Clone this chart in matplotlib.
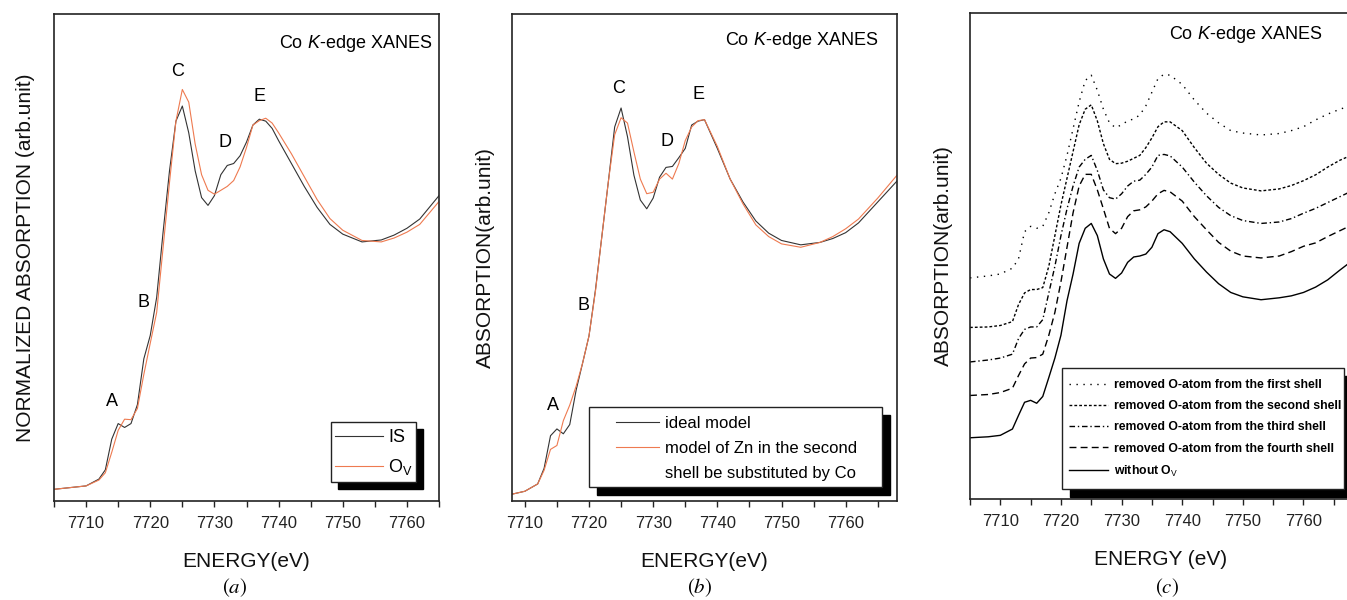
import matplotlib
matplotlib.use('Agg')
import matplotlib.pyplot as plt
from matplotlib.patches import Rectangle
from matplotlib.transforms import IdentityTransform
from matplotlib.ticker import MultipleLocator

plt.rcParams['font.family'] = ['Liberation Sans', 'DejaVu Sans']
plt.rcParams['mathtext.fontset'] = 'custom'
plt.rcParams['mathtext.rm'] = 'Liberation Sans'
plt.rcParams['mathtext.it'] = 'Liberation Sans:italic'

# ---- panel (a): experimental spectra ----
energy_a = [7705, 7710, 7712, 7713, 7714, 7715, 7716, 7717, 7718, 7719,
            7720, 7721, 7722, 7723, 7724, 7725, 7726, 7727, 7728, 7729,
            7730, 7731, 7732, 7733, 7734, 7735, 7736, 7737, 7738, 7739,
            7740, 7742, 7744, 7746, 7748, 7750, 7753, 7756, 7758, 7760,
            7762, 7765]
is_a = [.024, .031, .045, .064, .127, .159, .151, .159, .198, .292,
        .34, .418, .552, .678, .78, .811, .756, .678, .623, .607,
        .627, .67, .689, .693, .709, .737, .772, .784, .78, .765,
        .74, .693, .646, .603, .568, .548, .532, .536, .546, .56,
        .579, .627]
ov_a = [.024, .031, .043, .058, .10, .145, .168, .167, .19, .26,
        .324, .387, .52, .654, .78, .845, .819, .733, .67, .638,
        .63, .638, .646, .658, .686, .726, .772, .781, .786, .776,
        .756, .713, .666, .619, .58, .556, .535, .532, .54, .552,
        .568, .615]

# ---- panel (b): ideal vs Co-substituted model ----
energy_b = [7708, 7710, 7712, 7713, 7714, 7715, 7716, 7717, 7718, 7719,
            7720, 7721, 7722, 7723, 7724, 7725, 7726, 7727, 7728, 7729,
            7730, 7731, 7732, 7733, 7734, 7735, 7736, 7737, 7738, 7740,
            7742, 7744, 7746, 7748, 7750, 7753, 7756, 7758, 7760, 7762,
            7765, 7768]
ideal_b = [.014, .02, .035, .067, .134, .148, .138, .157, .228, .283,
           .339, .433, .543, .654, .768, .807, .748, .669, .618, .6,
           .622, .665, .685, .687, .705, .724, .772, .78, .783, .724,
           .661, .614, .575, .55, .535, .526, .531, .539, .551, .571,
           .614, .657]
subst_b = [.014, .02, .035, .063, .106, .114, .165, .197, .236, .283,
           .339, .43, .543, .654, .752, .787, .776, .717, .661, .631,
           .634, .661, .673, .661, .693, .74, .768, .781, .783, .728,
           .661, .61, .567, .543, .528, .521, .531, .543, .559, .579,
           .622, .669]

# ---- panel (c): O-vacancy in different shells ----
energy_c = [7705, 7708, 7710, 7712, 7713, 7714, 7715, 7716, 7717, 7718,
            7719, 7720, 7721, 7722, 7723, 7724, 7725, 7726, 7727, 7728,
            7729, 7730, 7731, 7732, 7733, 7734, 7735, 7736, 7737, 7738,
            7740, 7742, 7744, 7746, 7748, 7750, 7753, 7756, 7758, 7760,
            7762, 7764, 7766, 7768]
shell1 = [.455, .459, .463, .475, .494, .55, .561, .557, .561, .589,
          .628, .66, .707, .762, .817, .861, .872, .841, .802, .774,
          .764, .77, .778, .782, .79, .809, .837, .865, .874, .872,
          .853, .821, .794, .774, .758, .753, .749, .752, .758, .766,
          .78, .792, .802, .81]
shell2 = [.353, .354, .357, .365, .40, .424, .431, .431, .435, .479,
          .542, .605, .66, .715, .77, .802, .811, .778, .731, .699,
          .69, .691, .695, .701, .707, .723, .743, .766, .776, .776,
          .758, .723, .691, .668, .65, .64, .634, .638, .645, .655,
          .667, .683, .697, .708]
shell3 = [.282, .286, .29, .298, .33, .349, .354, .354, .369, .424,
          .479, .542, .597, .644, .683, .699, .707, .676, .636, .62,
          .617, .628, .644, .654, .656, .668, .683, .707, .709, .706,
          .683, .652, .624, .6, .583, .573, .567, .57, .577, .588,
          .598, .61, .622, .634]
shell4 = [.213, .215, .219, .228, .254, .278, .29, .291, .298, .337,
          .384, .447, .518, .589, .644, .668, .668, .636, .597, .557,
          .546, .557, .581, .593, .595, .601, .613, .628, .635, .632,
          .613, .581, .554, .528, .51, .5, .496, .5, .509, .52,
          .527, .54, .552, .564]
no_ov = [.126, .128, .131, .144, .172, .199, .203, .197, .211, .25,
         .29, .337, .408, .463, .526, .557, .567, .542, .494, .463,
         .454, .465, .487, .498, .5, .504, .518, .546, .554, .55,
         .526, .494, .467, .443, .425, .416, .41, .414, .418, .425,
         .436, .451, .471, .49]

peaks = ['A', 'B', 'C', 'D', 'E']
peak_a = [(7714.0, .205), (7718.9, .407), (7724.2, .881), (7731.6, .737), (7737.1, .830)]
peak_b = [(7714.4, .197), (7719.2, .402), (7724.6, .846), (7732.1, .739), (7737.1, .834)]

W, H = 1347, 600
fig = plt.figure(figsize=(W / 100, H / 100), dpi=100)
BLK = '#333333'
ORG = '#ee7a50'


def make_axes(l, t, r, b):
    return fig.add_axes([l / W, 1 - b / H, (r - l) / W, (b - t) / H])


def style(ax, xlim, ylab, xlab, ylab_x):
    ax.set_xlim(*xlim)
    ax.set_ylim(0, 1)
    ax.set_yticks([])
    ax.xaxis.set_major_locator(MultipleLocator(10))
    ax.xaxis.set_minor_locator(MultipleLocator(5))
    ax.tick_params(axis='x', which='both', direction='out', length=4,
                   width=1, labelsize=12, pad=7, colors='#222222')
    for s in ax.spines.values():
        s.set_linewidth(1.2)
        s.set_color('#222222')
    ax.set_ylabel(ylab, fontsize=15, color='#111111')
    ax.set_xlabel(xlab, fontsize=15, color='#111111')
    ax.yaxis.set_label_coords(ylab_x, 0.5)
    ax.xaxis.set_label_coords(0.5, -0.105)


def frame_box(ax, l, t, r, b, off):
    # black drop shadow, then the white legend box (pixel coords, top-left origin)
    ax.add_patch(Rectangle((l + off, H - b - off), r - l, b - t, transform=IdentityTransform(),
                           fc='black', ec='black', lw=1, zorder=3.9, clip_on=False))
    ax.add_patch(Rectangle((l, H - b), r - l, b - t, transform=IdentityTransform(),
                           fc='white', ec='#222222', lw=1, zorder=4, clip_on=False))


def title(ax, x, y):
    ax.text(x, y, 'Co $K$-edge XANES', transform=ax.transAxes, ha='right',
            va='center', fontsize=13)


# (a)
ax1 = make_axes(54, 14, 439, 501)
ax1.plot(energy_a, is_a, color=BLK, lw=0.8, label='IS')
ax1.plot(energy_a, ov_a, color=ORG, lw=0.8, label='O$_\\mathrm{V}$')
style(ax1, (7705, 7765), 'NORMALIZED ABSORPTION (arb.unit)', 'ENERGY(eV)', -0.05)
title(ax1, 0.982, 0.94)
for t, (x, y) in zip(peaks, peak_a):
    ax1.text(x, y, t, ha='center', va='center', fontsize=13)
frame_box(ax1, 331, 422, 416, 482, 7)
ax1.legend(loc='upper left', bbox_to_anchor=(335, H - 429), bbox_transform=IdentityTransform(),
           frameon=False, borderpad=0, borderaxespad=0, fontsize=13, handlelength=2.65,
           handletextpad=0.3, labelspacing=0.62)

# (b)
ax2 = make_axes(512, 14, 897, 501)
ax2.plot(energy_b, ideal_b, color=BLK, lw=0.8, label='ideal model')
ax2.plot(energy_b, subst_b, color=ORG, lw=0.8, label='model of Zn in the second')
ax2.plot([], [], color='none', label='shell be substituted by Co')
style(ax2, (7708, 7768), 'ABSORPTION(arb.unit)', 'ENERGY(eV)', -0.045)
title(ax2, 0.951, 0.945)
for t, (x, y) in zip(peaks, peak_b):
    ax2.text(x, y, t, ha='center', va='center', fontsize=13)
frame_box(ax2, 589, 407, 882, 487, 8)
ax2.legend(loc='upper left', bbox_to_anchor=(616, H - 416), bbox_transform=IdentityTransform(),
           frameon=False, borderpad=0, borderaxespad=0, fontsize=12, handlelength=2.6,
           handletextpad=0.35, labelspacing=0.6)

# (c)
ax3 = make_axes(970, 13, 1352, 499)
ax3.plot(energy_c, shell1, color='black', lw=1, ls=(0, (1, 4)),
         label='removed O-atom from the first shell')
ax3.plot(energy_c, shell2, color='black', lw=1, ls=(0, (2, 1.5)),
         label='removed O-atom from the second shell')
ax3.plot(energy_c, shell3, color='black', lw=1, ls=(0, (4, 2, 1, 2)),
         label='removed O-atom from the third shell')
ax3.plot(energy_c, shell4, color='black', lw=1, ls=(0, (5, 3)),
         label='removed O-atom from the fourth shell')
ax3.plot(energy_c, no_ov, color='black', lw=1, label='without O$_\\mathrm{V}$')
style(ax3, (7705, 7768), 'ABSORPTION(arb.unit)', 'ENERGY (eV)', -0.045)
title(ax3, 0.921, 0.955)
frame_box(ax3, 1062, 368, 1344, 489, 8)
ax3.legend(loc='upper left', bbox_to_anchor=(1069, H - 379), bbox_transform=IdentityTransform(),
           frameon=False, borderpad=0, borderaxespad=0,
           prop={'size': 8.8, 'weight': 'bold'}, handlelength=3.2,
           handletextpad=0.5, labelspacing=0.75)

for x, lab in [(235, '(a)'), (700, '(b)'), (1167, '(c)')]:
    fig.text(x / W, 1 - 588 / H, '$' + lab + '$', math_fontfamily='stix',
             fontsize=15, ha='center', va='center')

fig.savefig('out.png', dpi=100)
